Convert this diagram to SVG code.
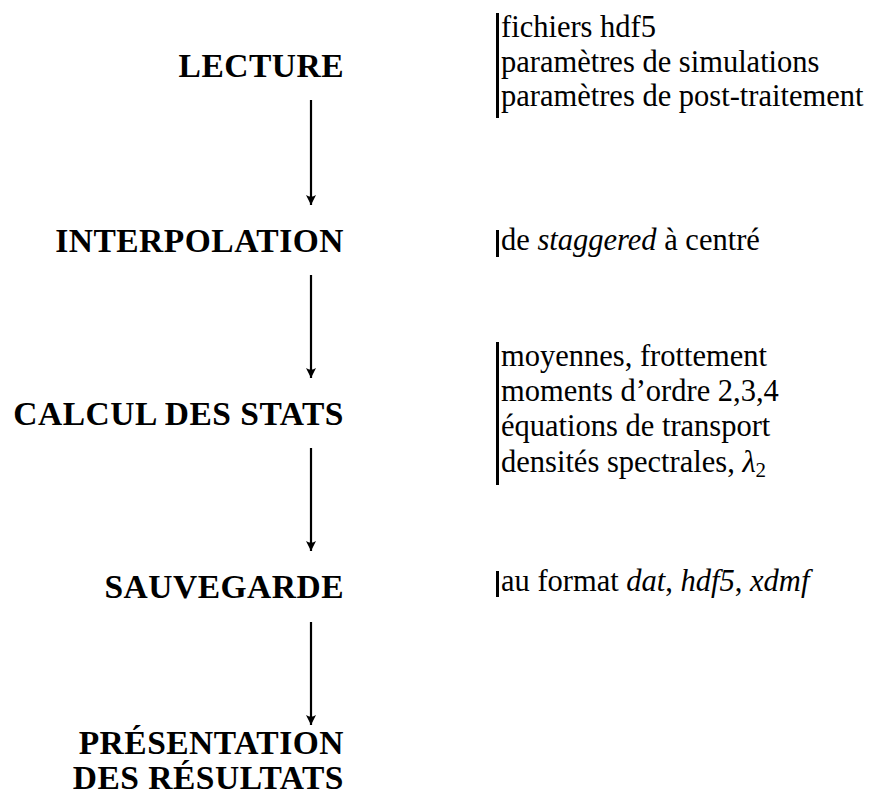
<svg xmlns="http://www.w3.org/2000/svg" width="874" height="795" viewBox="0 0 874 795">
<style>
.lbl{font-weight:bold;font-size:33.5px;letter-spacing:0.5px;fill:#000;text-anchor:end}
.txt{font-size:30.5px;fill:#000}
.it{font-style:italic}
.bar{fill:#000}
.arr{stroke:#000;stroke-width:2.2;fill:none}
</style>
<defs>
<marker id="ah" viewBox="-11 -5.5 12 11" refX="0" refY="0" markerWidth="12" markerHeight="11" markerUnits="userSpaceOnUse" orient="auto">
<path d="M0,0 L-10,-5 Q-6.5,0 -10,5 Z" fill="#000"/>
</marker>
</defs>
<rect width="874" height="795" fill="#fff"/>
<g font-family="'Liberation Serif', 'Times New Roman', serif">
<g id="lecture">
<text class="lbl" x="344" y="77">LECTURE</text>
<rect class="bar" x="496" y="13" width="3" height="105"/>
<text class="txt" x="501" y="37">fichiers hdf5</text>
<text class="txt" x="501" y="71.5">paramètres de simulations</text>
<text class="txt" x="501" y="106">paramètres de post-traitement</text>
</g>
<g id="interpolation">
<text class="lbl" x="344" y="252">INTERPOLATION</text>
<rect class="bar" x="496" y="230" width="3" height="27"/>
<text class="txt" x="501" y="250">de <tspan class="it">staggered</tspan> à centré</text>
</g>
<g id="calcul">
<text class="lbl" x="344" y="425">CALCUL DES STATS</text>
<rect class="bar" x="496" y="342" width="3" height="143"/>
<text class="txt" x="501" y="366">moyennes, frottement</text>
<text class="txt" x="501" y="401">moments d’ordre 2,3,4</text>
<text class="txt" x="501" y="436">équations de transport</text>
<text class="txt" x="501" y="472">densités spectrales, <tspan class="it">λ</tspan><tspan font-size="21" dy="5">2</tspan></text>
</g>
<g id="sauvegarde">
<text class="lbl" x="344" y="598">SAUVEGARDE</text>
<rect class="bar" x="496" y="571" width="3" height="26"/>
<text class="txt" x="501" y="591">au format <tspan class="it">dat</tspan>, <tspan class="it">hdf5</tspan>, <tspan class="it">xdmf</tspan></text>
</g>
<g id="presentation">
<text class="lbl" x="344" y="754">PRÉSENTATION</text>
<text class="lbl" x="344" y="789">DES RÉSULTATS</text>
</g>
</g>
<g id="connectors">
<line class="arr" x1="311" y1="100" x2="311" y2="205" marker-end="url(#ah)"/>
<line class="arr" x1="311" y1="275" x2="311" y2="378" marker-end="url(#ah)"/>
<line class="arr" x1="311" y1="448" x2="311" y2="551" marker-end="url(#ah)"/>
<line class="arr" x1="311" y1="622" x2="311" y2="725" marker-end="url(#ah)"/>
</g>
</svg>
